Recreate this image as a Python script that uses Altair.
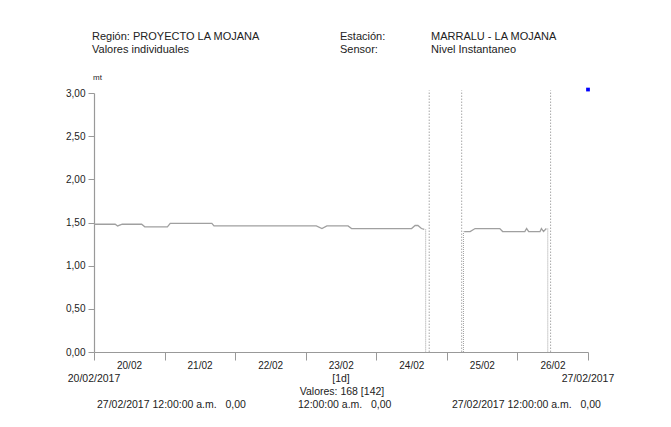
import altair as alt
import pandas as pd

FONT = "Liberation Sans, Arial"
NB = "\u00a0"

# ---- data (x = days after 20/02/2017 00:00) ----
day_labels = ["20/02", "21/02", "22/02", "23/02", "24/02", "25/02", "26/02"]
y_ticks = [0, 0.5, 1.0, 1.5, 2.0, 2.5, 3.0]

seg1_days = [0.00, 0.30, 0.335, 0.40, 0.675, 0.72, 1.04, 1.08, 1.67, 1.70,
             3.15, 3.23, 3.30, 3.60, 3.65, 4.50, 4.55, 4.59, 4.64, 4.68]
seg1_vals = [1.48, 1.48, 1.46, 1.48, 1.48, 1.45, 1.45, 1.49, 1.49, 1.46,
             1.46, 1.43, 1.46, 1.46, 1.43, 1.43, 1.465, 1.465, 1.43, 1.42]

seg2_days = [5.245, 5.33, 5.40, 5.75, 5.79, 6.105, 6.13, 6.16, 6.32, 6.34, 6.37, 6.41]
seg2_vals = [1.395, 1.395, 1.43, 1.43, 1.395, 1.395, 1.43, 1.395, 1.395, 1.43, 1.395, 1.43]

# dotted drops of the series into the gaps
drop_days = [4.70, 5.235, 6.43]
drop_from = [1.42, 0.0, 1.43]
drop_to = [0.0, 1.395, 0.0]

# full-height dotted gap markers
gap_days = [4.75, 5.21, 6.47]
gap_top = 3.03

# blue marker at the end of the period
marker_day = [7.0]
marker_val = [3.04]

header_left = ["Región: PROYECTO LA MOJANA", "Valores individuales"]
header_mid = ["Estación:", "Sensor:"]
header_right = ["MARRALU - LA MOJANA", "Nivel Instantaneo"]
range_labels = ["20/02/2017", "27/02/2017"]
range_days = [0, 7]
footer_texts = ["27/02/2017 12:00:00 a.m." + NB * 3 + "0,00",
                "12:00:00 a.m." + NB * 3 + "0,00",
                "27/02/2017 12:00:00 a.m." + NB * 3 + "0,00"]

# ---- chart ----
W, H = 494, 259
line_df = pd.DataFrame({
    "d": seg1_days + seg2_days,
    "v": seg1_vals + seg2_vals,
    "seg": ["a"] * len(seg1_days) + ["b"] * len(seg2_days),
})
drop_df = pd.DataFrame({"d": drop_days, "v0": drop_from, "v1": drop_to})
gap_df = pd.DataFrame({"d": gap_days, "v0": [0.0] * len(gap_days), "v1": [gap_top] * len(gap_days)})
mark_df = pd.DataFrame({"d": marker_day, "v": marker_val})
range_df = pd.DataFrame({"d": range_days, "t": range_labels})

x_scale = alt.Scale(domain=[0, 7], nice=False, zero=False)
y_scale = alt.Scale(domain=[0, 3], nice=False)

js_labels = "[" + ",".join("'" + s + "'" for s in day_labels) + "]"

x_axis = alt.Axis(
    values=list(range(8)), title=None, grid=False,
    labelExpr=f"datum.value < 7 ? {js_labels}[datum.value] : ''",
    labelOffset=35, labelFlush=False, labelOverlap=False, labelBound=False,
    labelFont=FONT, labelFontSize=10, labelColor="#222", labelPadding=0.5,
    tickSize=8, tickColor="#999", domainColor="#999", tickWidth=1, domainWidth=1.2,
)
y_axis = alt.Axis(
    values=y_ticks, title=None, grid=False,
    labelExpr="replace(format(datum.value, '.2f'), '.', ',')",
    labelFont=FONT, labelFontSize=10, labelColor="#222", labelPadding=3,
    tickSize=6, tickColor="#999", domainColor="#999", tickWidth=1, domainWidth=1.2,
)

line = alt.Chart(line_df).mark_line(color="#a0a0a0", strokeWidth=1.3).encode(
    x=alt.X("d:Q", scale=x_scale, axis=x_axis),
    y=alt.Y("v:Q", scale=y_scale, axis=y_axis),
    detail="seg:N",
)

gaps = alt.Chart(gap_df).mark_rule(color="#a8a8a8", strokeWidth=1, strokeDash=[1.5, 1.5]).encode(
    x=alt.X("d:Q", scale=x_scale), y=alt.Y("v0:Q", scale=y_scale), y2="v1:Q"
)
drops = alt.Chart(drop_df).mark_rule(color="#a0a0a0", strokeWidth=1, strokeDash=[1, 1]).encode(
    x=alt.X("d:Q", scale=x_scale), y=alt.Y("v0:Q", scale=y_scale), y2="v1:Q"
)
marker = alt.Chart(mark_df).mark_square(color="#0000ff", size=14, opacity=1).encode(
    x=alt.X("d:Q", scale=x_scale), y=alt.Y("v:Q", scale=y_scale)
)

def txt(s, x, y, align="left", size=10.5, color="#222"):
    return alt.Chart(pd.DataFrame({"t": [s]})).mark_text(
        align=align, baseline="middle", font=FONT, fontSize=size, color=color
    ).encode(text="t:N", x=alt.value(x), y=alt.value(y))

texts = [
    txt(header_left[0], -2, -56, size=11), txt(header_left[1], -2, -43, size=11),
    txt(header_mid[0], 246, -56, size=11), txt(header_mid[1], 246, -43, size=11),
    txt(header_right[0], 337, -56, size=11), txt(header_right[1], 337, -43, size=11),
    txt("mt", -1, -15, size=8),
    txt("[1d]", 247, 286, align="center"),
    txt("Valores: 168 [142]", 248, 299, align="center"),
    txt(footer_texts[0], 3, 312),
    txt(footer_texts[1], 204, 312),
    txt(footer_texts[2], 358, 312),
]

ranges = alt.Chart(range_df).mark_text(
    align="center", baseline="middle", font=FONT, fontSize=10.5, color="#222"
).encode(x=alt.X("d:Q", scale=x_scale), y=alt.value(286), text="t:N")

chart = alt.layer(gaps, drops, line, marker, ranges, *texts).properties(
    width=W, height=H,
    autosize=alt.AutoSizeParams(type="none"),
    padding={"left": 86, "top": 85, "right": 75, "bottom": 67},
    background="white",
).configure_view(stroke=None)

chart.save("out.html", embed_options={"renderer": "svg", "actions": False})
